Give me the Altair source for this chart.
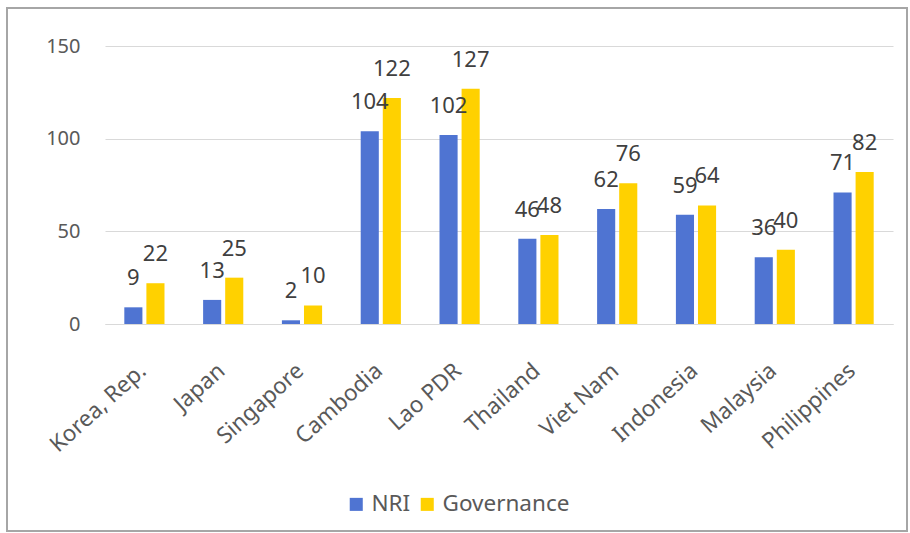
import altair as alt
import pandas as pd

countries = ["Korea, Rep.", "Japan", "Singapore", "Cambodia", "Lao PDR",
             "Thailand", "Viet Nam", "Indonesia", "Malaysia", "Philippines"]
nri = [9, 13, 2, 104, 102, 46, 62, 59, 36, 71]
governance = [22, 25, 10, 122, 127, 48, 76, 64, 40, 82]
series = ["NRI", "Governance"]
colors = ["#4F74D2", "#FFD100"]

rows = []
for c, a, b in zip(countries, nri, governance):
    rows.append({"country": c, "series": "NRI", "value": a})
    rows.append({"country": c, "series": "Governance", "value": b})
df = pd.DataFrame(rows)

FONT = "Noto Sans"
W, H = 788, 278

x = alt.X("country:N", sort=countries,
          scale=alt.Scale(paddingInner=0.49, paddingOuter=0.245),
          axis=alt.Axis(title=None, labelAngle=-42, labelFontSize=22.5,
                        labelColor="#595959", labelFont=FONT, ticks=False,
                        domain=True, domainColor="#d9d9d9",
                        labelPadding=35, labelOffset=-9))
xo = alt.XOffset("series:N", sort=series,
                 scale=alt.Scale(paddingInner=0.18, paddingOuter=0))
y = alt.Y("value:Q", scale=alt.Scale(domain=[0, 150]),
          axis=alt.Axis(title=None, values=[0, 50, 100, 150], labelFontSize=20,
                        labelColor="#595959", labelFont=FONT, ticks=False,
                        domain=False, gridColor="#d9d9d9", labelPadding=25))
color = alt.Color("series:N", sort=series,
                  scale=alt.Scale(domain=series, range=colors),
                  legend=alt.Legend(title=None, orient="none", direction="horizontal",
                                    legendX=240, legendY=447, symbolType="square",
                                    symbolSize=170, symbolStrokeWidth=0,
                                    labelFontSize=22.5, labelFont=FONT,
                                    labelColor="#595959", labelOffset=4,
                                    columnPadding=5, padding=0))

bars = alt.Chart(df).mark_bar().encode(x=x, xOffset=xo, y=y, color=color)
labels = alt.Chart(df).mark_text(baseline="alphabetic", dy=-22, fontSize=22,
                                 font=FONT, color="#404040").encode(
    x=x, xOffset=xo, y=y, text=alt.Text("value:Q"))

frame = alt.Chart(alt.Data(values=[{"f": 1}])).mark_rect(
    fill=None, stroke="#a6a6a6", strokeWidth=2).encode(
    x=alt.value(-98), x2=alt.value(802), y=alt.value(-38), y2=alt.value(485))

chart = alt.layer(bars, labels, frame).properties(
    width=W, height=H,
    autosize=alt.AutoSizeParams(type="none"),
    padding={"left": 105, "top": 46, "right": 17, "bottom": 209},
    background="white",
).configure_view(stroke=None)

chart.save("out.html", embed_options={"renderer": "svg", "actions": False})
